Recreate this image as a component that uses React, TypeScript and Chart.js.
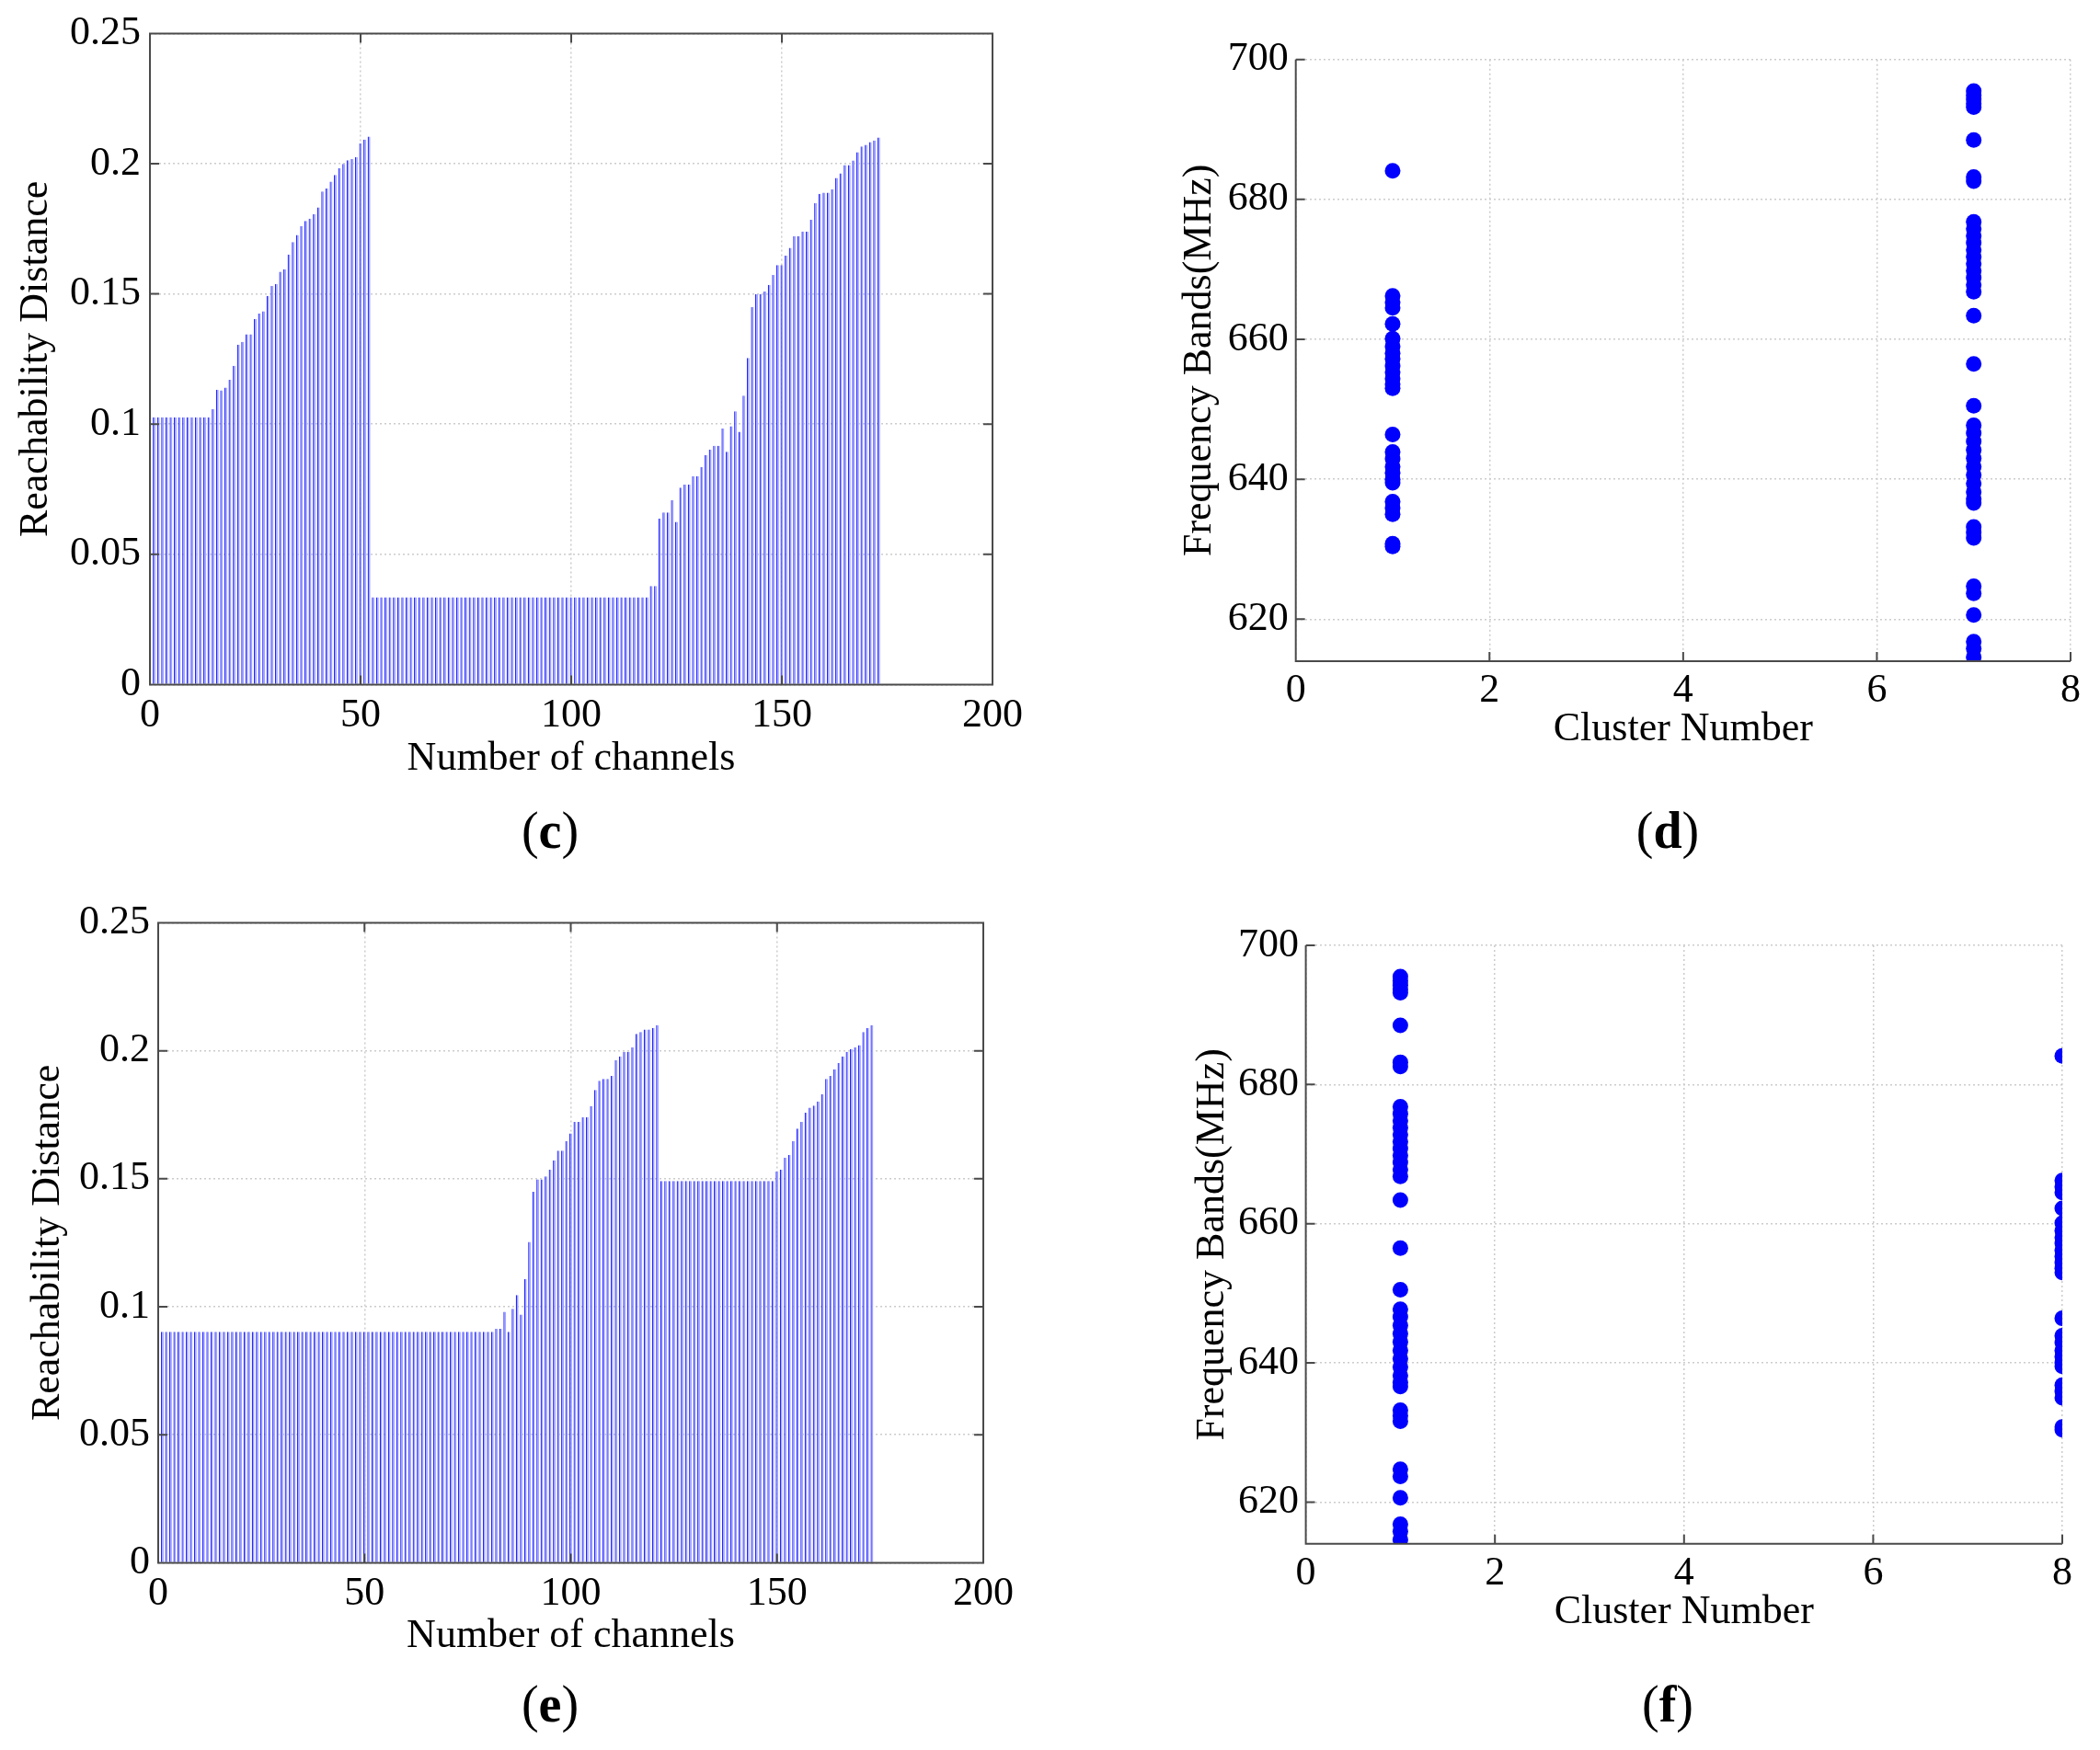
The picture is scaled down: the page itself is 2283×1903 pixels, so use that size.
import React, { useEffect, useRef } from "react"
import { Chart, registerables } from "chart.js"

Chart.register(...registerables)

// channel numbers 1..173 (x positions of the bars)
const channels = Array.from({ length: 173 }, (_, i) => i + 1)

// (c) reachability distance per channel
const reachC = [
  0.1026, 0.1026, 0.1026, 0.1026, 0.1026, 0.1026, 0.1026, 0.1026, 0.1026, 0.1026,
  0.1026, 0.1026, 0.1026, 0.1026, 0.1057, 0.1132, 0.113, 0.114, 0.117, 0.1224,
  0.1305, 0.1316, 0.1345, 0.1345, 0.1403, 0.1424, 0.1433, 0.1492, 0.153, 0.1538,
  0.1585, 0.1595, 0.1651, 0.1699, 0.1726, 0.1761, 0.178, 0.1789, 0.1806, 0.1832,
  0.1893, 0.1905, 0.1931, 0.1957, 0.1982, 0.1999, 0.2013, 0.2018, 0.2026, 0.2078,
  0.2093, 0.2104, 0.0335, 0.0335, 0.0335, 0.0335, 0.0335, 0.0335, 0.0335, 0.0335,
  0.0335, 0.0335, 0.0335, 0.0335, 0.0335, 0.0335, 0.0335, 0.0335, 0.0335, 0.0335,
  0.0335, 0.0335, 0.0335, 0.0335, 0.0335, 0.0335, 0.0335, 0.0335, 0.0335, 0.0335,
  0.0335, 0.0335, 0.0335, 0.0335, 0.0335, 0.0335, 0.0335, 0.0335, 0.0335, 0.0335,
  0.0335, 0.0335, 0.0335, 0.0335, 0.0335, 0.0335, 0.0335, 0.0335, 0.0335, 0.0335,
  0.0335, 0.0335, 0.0335, 0.0335, 0.0335, 0.0335, 0.0335, 0.0335, 0.0335, 0.0335,
  0.0335, 0.0335, 0.0335, 0.0335, 0.0335, 0.0335, 0.0335, 0.0335, 0.0378, 0.0378,
  0.0637, 0.0661, 0.0661, 0.0708, 0.0625, 0.0756, 0.0768, 0.0768, 0.08, 0.08,
  0.0835, 0.0881, 0.0902, 0.0917, 0.0917, 0.0983, 0.0894, 0.0992, 0.1049, 0.0971,
  0.1109, 0.1254, 0.1449, 0.1499, 0.1499, 0.1509, 0.1535, 0.1573, 0.1611, 0.1611,
  0.1647, 0.1677, 0.1722, 0.1722, 0.174, 0.174, 0.1785, 0.1848, 0.1884, 0.1889,
  0.1889, 0.1902, 0.1945, 0.1963, 0.1995, 0.1995, 0.2012, 0.2044, 0.2066, 0.2072,
  0.2083, 0.2089, 0.2101,
]

// (e) reachability distance per channel
const reachE = [
  0.0902, 0.0902, 0.0902, 0.0902, 0.0902, 0.0902, 0.0902, 0.0902, 0.0902, 0.0902,
  0.0902, 0.0902, 0.0902, 0.0902, 0.0902, 0.0902, 0.0902, 0.0902, 0.0902, 0.0902,
  0.0902, 0.0902, 0.0902, 0.0902, 0.0902, 0.0902, 0.0902, 0.0902, 0.0902, 0.0902,
  0.0902, 0.0902, 0.0902, 0.0902, 0.0902, 0.0902, 0.0902, 0.0902, 0.0902, 0.0902,
  0.0902, 0.0902, 0.0902, 0.0902, 0.0902, 0.0902, 0.0902, 0.0902, 0.0902, 0.0902,
  0.0902, 0.0902, 0.0902, 0.0902, 0.0902, 0.0902, 0.0902, 0.0902, 0.0902, 0.0902,
  0.0902, 0.0902, 0.0902, 0.0902, 0.0902, 0.0902, 0.0902, 0.0902, 0.0902, 0.0902,
  0.0902, 0.0902, 0.0902, 0.0902, 0.0902, 0.0902, 0.0902, 0.0902, 0.0902, 0.0902,
  0.0902, 0.0914, 0.0914, 0.098, 0.0902, 0.0992, 0.1046, 0.097, 0.1108, 0.1253,
  0.1449, 0.1498, 0.1498, 0.1509, 0.1535, 0.1572, 0.161, 0.161, 0.1647, 0.1677,
  0.1722, 0.1722, 0.174, 0.174, 0.1784, 0.1847, 0.1883, 0.189, 0.189, 0.1902,
  0.1964, 0.1978, 0.1996, 0.1996, 0.2013, 0.2066, 0.2073, 0.2083, 0.2083, 0.209,
  0.21, 0.1491, 0.1491, 0.1491, 0.1491, 0.1491, 0.1491, 0.1491, 0.1491, 0.1491,
  0.1491, 0.1491, 0.1491, 0.1491, 0.1491, 0.1491, 0.1491, 0.1491, 0.1491, 0.1491,
  0.1491, 0.1491, 0.1491, 0.1491, 0.1491, 0.1491, 0.1491, 0.1491, 0.1491, 0.1528,
  0.1535, 0.1582, 0.1593, 0.1647, 0.1696, 0.1722, 0.1758, 0.1778, 0.1786, 0.1802,
  0.183, 0.189, 0.1902, 0.1928, 0.1952, 0.1978, 0.1996, 0.2007, 0.2013, 0.2022,
  0.2073, 0.2089, 0.21,
]

// frequency bands (MHz) of the two groups of channels
const bandsLow = [
  684.1, 666.2, 665.3, 664.5, 662.2, 660.1, 659.0, 658.0, 657.2, 656.2,
  655.3, 654.4, 653.6, 653.0, 646.4, 643.9, 642.9, 641.8, 640.9, 640.0,
  639.5, 636.8, 635.9, 635.0, 630.8, 630.4,
]
const bandsHigh = [
  695.5, 694.9, 694.3, 693.7, 693.2, 688.5, 683.2, 682.6, 676.8, 675.8,
  674.8, 673.8, 672.8, 671.8, 670.8, 669.8, 668.8, 667.8, 666.8, 663.4,
  656.5, 650.5, 647.7, 646.6, 645.4, 644.2, 643.0, 641.8, 640.6, 639.4,
  638.2, 637.2, 636.6, 633.2, 632.4, 631.6, 624.7, 623.7, 620.6, 616.8,
  615.8, 614.6,
]
// cluster number given to [bandsLow, bandsHigh] in each panel
const clustersD = [1, 7]
const clustersF = [8, 1]

// ticks
const reachTicks = [0, 0.05, 0.1, 0.15, 0.2, 0.25]
const reachTickLabels = ["0", "0.05", "0.1", "0.15", "0.2", "0.25"]
const channelTicks = [0, 50, 100, 150, 200]
const freqTicks = [620, 640, 660, 680, 700]
const clusterTicks = [0, 2, 4, 6, 8]

const FONT = "'Liberation Serif', 'Times New Roman', serif"
const textFont = { family: FONT, size: 44, lineHeight: 1.2 }

interface AxisSpec {
  min: number
  max: number
  ticks: number[]
  labels?: string[]
  title: string
  size: number
  tickPad: number
  titlePad: number
}

function axis(spec: AxisSpec, horizontal: boolean) {
  return {
    type: "linear",
    min: spec.min,
    max: spec.max,
    offset: false,
    afterBuildTicks: (s: any) => {
      s.ticks = spec.ticks.map((v) => ({ value: v }))
    },
    afterFit: (s: any) => {
      if (horizontal) s.height = spec.size
      else s.width = spec.size
    },
    ticks: {
      autoSkip: false,
      maxRotation: 0,
      minRotation: 0,
      color: "#000",
      font: textFont,
      padding: spec.tickPad,
      callback: (v: number) => {
        const i = spec.ticks.indexOf(v)
        return spec.labels && i >= 0 ? spec.labels[i] : String(v)
      },
    },
    grid: { offset: false, drawTicks: false, color: "#cccccc", lineWidth: 1.5 },
    border: { display: false, dash: [2, 3] },
    title: {
      display: true,
      text: spec.title,
      color: "#000",
      font: textFont,
      padding: horizontal ? { top: 0, bottom: spec.titlePad } : { top: spec.titlePad, bottom: 0 },
    },
  }
}

// axis lines and inward tick marks (MATLAB style)
const framePlugin = {
  id: "frame",
  afterDatasetsDraw(chart: any, _args: any, opts: any) {
    const { ctx, chartArea: a, scales } = chart
    const len = 10
    ctx.save()
    ctx.strokeStyle = "#4a4a4a"
    ctx.lineWidth = 2
    ctx.beginPath()
    if (opts.box) {
      ctx.rect(a.left, a.top, a.right - a.left, a.bottom - a.top)
    } else {
      ctx.moveTo(a.left, a.top)
      ctx.lineTo(a.left, a.bottom)
      ctx.lineTo(a.right, a.bottom)
    }
    for (const t of scales.x.ticks) {
      const px = scales.x.getPixelForValue(t.value)
      ctx.moveTo(px, a.bottom)
      ctx.lineTo(px, a.bottom - len)
      if (opts.box) {
        ctx.moveTo(px, a.top)
        ctx.lineTo(px, a.top + len)
      }
    }
    for (const t of scales.y.ticks) {
      const py = scales.y.getPixelForValue(t.value)
      ctx.moveTo(a.left, py)
      ctx.lineTo(a.left + len, py)
      if (opts.box) {
        ctx.moveTo(a.right, py)
        ctx.lineTo(a.right - len, py)
      }
    }
    ctx.stroke()
    ctx.restore()
  },
}

interface PanelProps {
  left: number
  top: number
  width: number
  height: number
  config: any
}

function Panel({ left, top, width, height, config }: PanelProps) {
  const canvasRef = useRef<HTMLCanvasElement>(null)

  useEffect(() => {
    if (!canvasRef.current) return
    const chart = new Chart(canvasRef.current, config)
    return () => chart.destroy()
  }, [config])

  return (
    <canvas
      ref={canvasRef}
      width={width}
      height={height}
      style={{ position: "absolute", left, top, width, height }}
    />
  )
}

function barConfig(values: number[], pad: { top: number; right: number }, x: AxisSpec, y: AxisSpec) {
  return {
    type: "bar",
    data: {
      datasets: [
        {
          data: channels.map((c, i) => ({ x: c, y: values[i] })),
          backgroundColor: "#a2a7ff",
          borderColor: "#2424ff",
          borderWidth: { left: 1.3, right: 0, top: 0, bottom: 0 },
          borderSkipped: false,
          barPercentage: 0.66,
          categoryPercentage: 1,
        },
      ],
    },
    options: {
      responsive: false,
      animation: false,
      layout: { padding: { left: 0, bottom: 0, top: pad.top, right: pad.right } },
      plugins: { legend: { display: false }, tooltip: { enabled: false }, frame: { box: true } },
      scales: { x: axis(x, true), y: axis(y, false) },
    },
    plugins: [framePlugin],
  }
}

function scatterConfig(clusters: number[], pad: { top: number; right: number }, x: AxisSpec, y: AxisSpec) {
  const groups = [bandsLow, bandsHigh]
  return {
    type: "scatter",
    data: {
      datasets: groups.map((g, k) => ({
        data: g.map((v) => ({ x: clusters[k], y: v })),
        backgroundColor: "#0000ff",
        borderWidth: 0,
        pointRadius: 8.5,
        pointHoverRadius: 8.5,
      })),
    },
    options: {
      responsive: false,
      animation: false,
      layout: { padding: { left: 0, bottom: 0, top: pad.top, right: pad.right } },
      plugins: { legend: { display: false }, tooltip: { enabled: false }, frame: { box: false } },
      scales: { x: axis(x, true), y: axis(y, false) },
    },
    plugins: [framePlugin],
  }
}

const configC = barConfig(
  reachC,
  { top: 33.5, right: 61 },
  { min: 0, max: 200, ticks: channelTicks, title: "Number of channels", size: 125.6, tickPad: 8, titlePad: 18.6 },
  { min: 0, max: 0.25, ticks: reachTicks, labels: reachTickLabels, title: "Reachability Distance", size: 163, tickPad: 10, titlePad: 12.6 }
)

const configD = scatterConfig(
  clustersD,
  { top: 64.7, right: 32 },
  { min: 0, max: 8, ticks: clusterTicks, title: "Cluster Number", size: 151, tickPad: 5.6, titlePad: 50 },
  { min: 614, max: 700, ticks: freqTicks, title: "Frequency Bands(MHz)", size: 148.7, tickPad: 8, titlePad: 18.2 }
)

const configE = barConfig(
  reachE,
  { top: 103.5, right: 71 },
  { min: 0, max: 200, ticks: channelTicks, title: "Number of channels", size: 130.6, tickPad: 7.2, titlePad: 24.6 },
  { min: 0, max: 0.25, ticks: reachTicks, labels: reachTickLabels, title: "Reachability Distance", size: 172, tickPad: 9, titlePad: 25.6 }
)

const configF = scatterConfig(
  clustersF,
  { top: 128, right: 41 },
  { min: 0, max: 8, ticks: clusterTicks, title: "Cluster Number", size: 151.2, tickPad: 5.8, titlePad: 50.6 },
  { min: 614, max: 700, ticks: freqTicks, title: "Frequency Bands(MHz)", size: 159.6, tickPad: 7.6, titlePad: 31.6 }
)

function Caption({ x, y, letter }: { x: number; y: number; letter: string }) {
  return (
    <div
      style={{
        position: "absolute",
        left: x,
        top: y,
        transform: "translate(-50%, -50%)",
        fontFamily: FONT,
        fontSize: 56,
        lineHeight: 1,
        color: "#000",
        whiteSpace: "nowrap",
      }}
    >
      (<b>{letter}</b>)
    </div>
  )
}

export default function App() {
  return (
    <div style={{ position: "absolute", left: 0, top: 0, width: 2283, height: 1903, background: "#fff" }}>
      <Panel left={0} top={0} width={1140} height={870} config={configC} />
      <Panel left={1260} top={0} width={1023} height={870} config={configD} />
      <Panel left={0} top={900} width={1140} height={930} config={configE} />
      <Panel left={1260} top={900} width={1023} height={930} config={configF} />
      <Caption x={598} y={903} letter="c" />
      <Caption x={1813} y={903} letter="d" />
      <Caption x={598} y={1853} letter="e" />
      <Caption x={1813} y={1853} letter="f" />
    </div>
  )
}
